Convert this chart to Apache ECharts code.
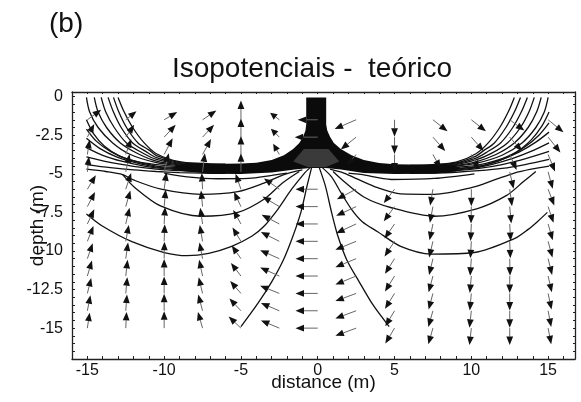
<!DOCTYPE html>
<html><head><meta charset="utf-8">
<script src="https://cdn.jsdelivr.net/npm/echarts@6/dist/echarts.min.js"></script>
<style>html,body{margin:0;padding:0;background:#fff}#c{width:581px;height:402px}</style>
</head><body><div id="c"></div><script>
const FONT = '"Liberation Sans", Arial, sans-serif';
const xTickLabels = [-15,-10,-5,0,5,10,15];
const yTickLabels = [0,-2.5,-5,-7.5,-10,-12.5,-15];

// isopotential fan lines, left side (from top / left boundary down into the layer)
const fanLeft = [
 [[-13.0,-0.05],[-12.6,-1.0],[-12.05,-2.0],[-11.3,-3.0],[-10.5,-3.7],[-9,-4.22],[-7.5,-4.33],[-6,-4.38]],
 [[-13.3,-0.05],[-12.95,-1.0],[-12.45,-2.0],[-11.7,-3.0],[-11.0,-3.45],[-10.5,-3.82],[-9,-4.27],[-7.5,-4.37],[-6,-4.42]],
 [[-13.65,-0.05],[-13.3,-1.0],[-12.8,-2.0],[-12.05,-3.0],[-11.2,-3.55],[-10.5,-3.95],[-9,-4.32],[-7.5,-4.42],[-6,-4.46]],
 [[-14.1,-0.05],[-13.8,-1.0],[-13.25,-2.0],[-12.45,-3.0],[-11.4,-3.65],[-10.5,-4.07],[-9,-4.37],[-7.5,-4.47],[-6,-4.5]],
 [[-14.55,-0.05],[-14.3,-1.0],[-13.75,-2.0],[-12.85,-3.0],[-11.7,-3.7],[-10.5,-4.18],[-9,-4.42],[-7.5,-4.52],[-6,-4.54]],
 [[-15.06,-0.05],[-14.85,-1.0],[-14.3,-2.0],[-13.35,-3.0],[-12.2,-3.75],[-10.5,-4.28],[-9,-4.47],[-7.5,-4.57],[-6,-4.58]],
 [[-15.06,-1.5],[-14.6,-2.4],[-13.9,-3.2],[-12.9,-3.85],[-11.6,-4.25],[-10.5,-4.4],[-9,-4.53],[-7.5,-4.62],[-6,-4.63]],
 [[-15.06,-2.1],[-14.4,-2.9],[-13.5,-3.55],[-12.4,-4.05],[-10.5,-4.5],[-9,-4.6],[-7.5,-4.67],[-6,-4.68]],
 [[-15.06,-2.7],[-14.2,-3.35],[-13.1,-3.9],[-11.8,-4.3],[-10.5,-4.57],[-9,-4.67],[-7.5,-4.72],[-6,-4.73]],
 [[-15.06,-3.3],[-14,-3.8],[-12.7,-4.2],[-11.3,-4.5],[-10,-4.67],[-8.5,-4.75],[-6,-4.8]],
 [[-15.06,-3.9],[-13.6,-4.25],[-12,-4.52],[-10.5,-4.7],[-9,-4.8],[-7.5,-4.85],[-6,-4.87]],
 [[-15.06,-4.4],[-13.5,-4.6],[-12,-4.75],[-10.5,-4.85],[-9,-4.92],[-7.5,-4.96],[-6,-4.97]]
];
// right side fan lines
const fanRight = [
 [[12.8,-0.05],[12.4,-1.0],[11.85,-2.0],[11.1,-3.0],[10.3,-3.7],[9,-4.25],[7.5,-4.4],[6,-4.45]],
 [[13.2,-0.05],[12.8,-1.0],[12.25,-2.0],[11.5,-3.0],[10.8,-3.5],[10.3,-3.85],[9,-4.3],[7.5,-4.44],[6,-4.48]],
 [[13.65,-0.05],[13.25,-1.0],[12.7,-2.0],[11.9,-3.0],[11.0,-3.6],[10.3,-3.98],[9,-4.35],[7.5,-4.48],[6,-4.52]],
 [[14.1,-0.05],[13.75,-1.0],[13.2,-2.0],[12.35,-3.0],[11.3,-3.68],[10.3,-4.1],[9,-4.4],[7.5,-4.52],[6,-4.56]],
 [[14.55,-0.05],[14.25,-1.0],[13.7,-2.0],[12.8,-3.0],[11.6,-3.75],[10.3,-4.22],[9,-4.45],[7.5,-4.56],[6,-4.6]],
 [[15.0,-0.05],[14.75,-1.0],[14.2,-2.0],[13.3,-3.0],[12.0,-3.8],[10.3,-4.33],[9,-4.5],[7.5,-4.6],[6,-4.64]],
 [[15.06,-1.0],[14.6,-1.9],[13.9,-2.8],[12.9,-3.6],[11.6,-4.15],[10.3,-4.45],[9,-4.57],[7.5,-4.66],[6,-4.69]],
 [[15.06,-1.7],[14.4,-2.5],[13.5,-3.25],[12.4,-3.9],[11,-4.4],[9.5,-4.62],[7.5,-4.72],[6,-4.74]],
 [[15.06,-2.3],[14.2,-2.95],[13.1,-3.6],[11.8,-4.15],[10.4,-4.55],[9,-4.68],[7.5,-4.77],[6,-4.79]],
 [[15.06,-3.0],[14,-3.5],[12.7,-4.0],[11.3,-4.4],[10,-4.65],[8.5,-4.78],[6,-4.84]],
 [[15.06,-3.55],[13.6,-4.0],[12,-4.4],[10.5,-4.65],[9,-4.8],[7.5,-4.87],[6,-4.9]],
 [[15.06,-4.07],[13.5,-4.4],[12,-4.65],[10.5,-4.8],[9,-4.9],[7.5,-4.95],[6,-4.97]]
];
// isopotentials below the layer
const curveA0Left = [[-10,-4.95],[-8.5,-5.2],[-6.5,-5.32],[-4.5,-5.3],[-3,-5.1],[-2,-4.95]];
const curveALeft = [[-15.06,-4.7],[-13.8,-4.85],[-12.7,-5.05],[-12.0,-5.4],[-10.2,-6.0],[-7.6,-6.33],[-5.2,-6.15],[-3.5,-5.6],[-2.2,-5.05],[-1.0,-4.75]];
const curveBLeft = [[-12.7,-5.05],[-11.9,-5.9],[-10.2,-7.1],[-7.6,-7.75],[-5.2,-7.5],[-3.5,-6.65],[-2.3,-5.6],[-1.2,-4.85]];
const curveCLeft = [[-15.06,-7.6],[-14,-8.4],[-12.1,-9.4],[-10,-10.1],[-8.5,-10.3],[-7.1,-10.15],[-5.6,-9.7],[-4.3,-9.05],[-3.5,-8.4],[-2.6,-7.3],[-1.7,-6.0],[-0.9,-5.0],[-0.5,-4.6]];
const curveRLeft = [[-0.4,-4.6],[-0.7,-5.8],[-1.1,-7.5],[-1.6,-9.0],[-2.2,-10.5],[-3.0,-12.0],[-3.9,-13.4],[-5.0,-14.9]];
const curveA0Right = [[2.0,-4.95],[2.8,-5.04],[4.8,-5.37],[7.6,-5.3],[10.2,-5.0]];
const curveARight = [[0.8,-4.7],[1.7,-4.95],[2.6,-5.35],[3.9,-5.9],[5.4,-6.3],[7.6,-6.33],[10.0,-5.9],[11.5,-5.4],[12.8,-4.95],[13.9,-4.7],[15.06,-4.5]];
const curveBRight = [[1.0,-4.85],[1.6,-5.4],[3.0,-6.5],[4.8,-7.2],[7.6,-7.75],[10.4,-7.25],[12.3,-6.4],[13.4,-5.5],[14.2,-4.85]];
const curveCRight = [[0.3,-4.6],[0.9,-5.2],[1.5,-6.2],[2.2,-7.3],[2.9,-8.1],[3.9,-8.75],[5.4,-9.7],[7.4,-10.2],[10.2,-10.1],[12.8,-9.2],[13.7,-8.6],[14.3,-8.1],[14.95,-7.5]];
const curveRRight = [[0.1,-4.6],[0.5,-5.8],[0.9,-7.5],[1.3,-9.0],[1.9,-10.6],[2.7,-12.0],[3.6,-13.5],[4.65,-14.9]];

// dense black region: electrode + conductive layer outline
const layerOutline = [[-0.75,-0.05],[-0.75,-1.8],[-0.8,-2.2],[-0.95,-2.6],[-1.2,-3.0],[-1.6,-3.4],[-2.2,-3.8],[-3.0,-4.1],[-4,-4.28],[-5,-4.33],[-7,-4.36],[-8.5,-4.33],[-9.3,-4.5],[-9,-4.8],[-7,-5.0],[-5,-5.02],[-3,-4.92],[-1.5,-4.72],[-0.5,-4.62],[0.5,-4.62],[1.5,-4.72],[3,-4.95],[5,-5.02],[7.6,-5.0],[9,-4.85],[9.3,-4.6],[8.5,-4.4],[7,-4.42],[5,-4.38],[4,-4.3],[3.0,-4.1],[2.2,-3.8],[1.5,-3.4],[1.05,-3.0],[0.8,-2.6],[0.62,-2.2],[0.55,-1.8],[0.55,-0.05]];
const tipPatch = [[-0.9,-3.4],[0.7,-3.4],[1.4,-4.2],[0.5,-4.58],[-0.6,-4.58],[-1.6,-4.2]];

// vector field (quiver): columns x rows, dx/dy per cell (null = no arrow)
const arrowColumns = [-15,-12.5,-10,-7.5,-5,-2.5,0,2.5,5,7.5,10,12.5,15];
const arrowRows = [-15,-13.875,-12.75,-11.625,-10.5,-9.375,-8.25,-7.125,-6,-4.875,-3.75,-2.625,-1.5];
const arrowDX = [
 [0.15,0.2,0.25,0.3,0.35,0.4,0.45,0.5,0.55,0.1,0.15,0.45,0.9],
 [0.05,0.08,0.1,0.12,0.15,0.2,0.25,0.3,0.35,0.25,0.35,0.55,0.7],
 [0,0,0,0,0.02,0.04,0.06,0.1,0.15,0.3,0.55,0.75,0.85],
 [-0.3,-0.28,-0.25,-0.22,-0.2,-0.18,-0.15,-0.1,-0.05,0.15,0.55,0.75,0.9],
 [-0.8,-0.75,-0.7,-0.65,-0.6,-0.55,-0.5,-0.45,-0.35,0,0,0,0],
 [-1.2,-1.2,-1.25,-1.25,-1.25,-1.2,-1.15,-1.1,-1,null,-0.4,-0.55,-0.6],
 [-1.45,-1.45,-1.45,-1.45,-1.45,-1.45,-1.45,-1.45,-1.45,null,null,-1.5,-1.3],
 [-1.35,-1.35,-1.35,-1.35,-1.35,-1.35,-1.3,-1.3,-1.25,null,-0.6,-1,-1.4],
 [-0.6,-0.6,-0.62,-0.62,-0.62,-0.65,-0.65,-0.7,-0.7,null,0,0,0],
 [-0.3,-0.3,-0.28,-0.28,-0.25,-0.25,-0.22,-0.2,-0.18,null,0.5,0.8,0.95],
 [-0.12,-0.12,-0.1,-0.1,-0.08,-0.06,-0.05,-0.02,0,null,0.5,0.8,0.95],
 [0,0,0,0,0.02,0.04,0.06,0.1,0.15,0.25,0.45,0.8,0.95],
 [0.2,0.2,0.22,0.24,0.26,0.28,0.3,0.35,0.4,0.3,0.45,0.8,1]
];
const arrowDY = [
 [1,1,1,1,1,1,0.95,0.95,0.9,1,0.95,0.85,0.65],
 [1.05,1.05,1.05,1.05,1.05,1.05,1.05,1.05,1.05,1.15,1,0.8,0.55],
 [1.1,1.1,1.1,1.1,1.1,1.1,1.1,1.1,1.1,1.2,1.05,0.8,0.5],
 [1.05,1.05,1.05,1.05,1.05,1.05,1.05,1.05,1.05,1.2,1,0.8,0.6],
 [0.75,0.8,0.8,0.85,0.85,0.9,0.9,0.95,1,1.2,1.2,1.2,1.25],
 [0.5,0.5,0.5,0.55,0.55,0.6,0.6,0.65,0.7,null,0.7,0.55,0.45],
 [0,0,0,0,0,0,0,0,0,null,null,0,0],
 [-0.5,-0.5,-0.5,-0.55,-0.55,-0.55,-0.6,-0.6,-0.65,null,-0.7,-0.8,-0.6],
 [-1,-1,-1,-1,-0.98,-0.98,-0.95,-0.95,-0.9,null,-1.1,-1.1,-1.1],
 [-1.05,-1.05,-1.05,-1.05,-1.05,-1.05,-1.05,-1.05,-1.05,null,-0.9,-0.9,-0.75],
 [-1.1,-1.1,-1.1,-1.1,-1.1,-1.1,-1.1,-1.1,-1.1,null,-0.95,-0.9,-0.75],
 [-1.1,-1.1,-1.1,-1.1,-1.1,-1.1,-1.1,-1.1,-1.1,-1.1,-1,-0.9,-0.7],
 [-1.05,-1.05,-1.05,-1.05,-1.05,-1.05,-1.05,-1.05,-1.05,-1.1,-1.1,-1,-0.8]
];

const arrows = [];
arrowColumns.forEach((x, ci) => {
  arrowRows.forEach((y, ri) => {
    const dx = arrowDX[ci][ri], dy = arrowDY[ci][ri];
    if (dx === null || dy === null) return;
    arrows.push([x, y, dx, dy]);
  });
});

const lineSets = [].concat(fanLeft, fanRight,
  [curveA0Left, curveALeft, curveBLeft, curveCLeft, curveRLeft,
   curveA0Right, curveARight, curveBRight, curveCRight, curveRRight]);

const series = lineSets.map(pts => ({
  type: 'line', data: pts, showSymbol: false, smooth: 0.3, silent: true,
  lineStyle: { color: '#111', width: 1.3 }, z: 2, animation: false
}));

function polySeries(outline, fill, z) {
  return {
    type: 'custom', coordinateSystem: 'cartesian2d', data: [[0, -5]],
    encode: { x: 0, y: 1 }, silent: true, z: z, animation: false,
    renderItem: (params, api) => ({
      type: 'polygon',
      shape: { points: outline.map(p => api.coord(p)), smooth: 0 },
      style: { fill: fill }
    })
  };
}
series.push(polySeries(layerOutline, '#0b0b0b', 3));
series.push(polySeries(tipPatch, '#3a3a3a', 4));

series.push({
  type: 'custom', coordinateSystem: 'cartesian2d', data: arrows,
  encode: { x: 0, y: 1 }, silent: true, z: 6, animation: false,
  renderItem: (params, api) => {
    const x = api.value(0), y = api.value(1), dx = api.value(2), dy = api.value(3);
    const p0 = api.coord([x, y]);
    const p1 = api.coord([x + dx, y + dy]);
    const vx = p1[0] - p0[0], vy = p1[1] - p0[1];
    const len = Math.sqrt(vx * vx + vy * vy) || 1;
    const ux = vx / len, uy = vy / len;
    const L = Math.min(8.5, len * 0.6), W = 3.4;
    const bx = p1[0] - ux * L, by = p1[1] - uy * L;
    return {
      type: 'group',
      children: [
        { type: 'line', shape: { x1: p0[0], y1: p0[1], x2: bx, y2: by },
          style: { stroke: '#666', lineWidth: 1 } },
        { type: 'polygon',
          shape: { points: [[p1[0], p1[1]], [bx - uy * W, by + ux * W], [bx + uy * W, by - ux * W]] },
          style: { fill: '#111' } }
      ]
    };
  }
});

const axisLineStyle = { color: '#222', width: 1.3 };
const chart = echarts.init(document.getElementById('c'), null, { renderer: 'canvas' });
chart.setOption({
  animation: false,
  backgroundColor: '#fff',
  grid: { left: 72, right: 6, top: 92, bottom: 43, containLabel: false, outerBoundsMode: 'none' },
  graphic: [
    { type: 'text', x: 49, y: 24, style: { text: '(b)', font: '28px ' + FONT, fill: '#111', verticalAlign: 'middle', textVerticalAlign: 'middle' } },
    { type: 'text', x: 312, y: 69, style: { text: 'Isopotenciais -  teórico', font: '28px ' + FONT, fill: '#111', align: 'center', textAlign: 'center', verticalAlign: 'middle', textVerticalAlign: 'middle' } }
  ],
  xAxis: [
    { type: 'value', min: -16, max: 16.75, interval: 1, position: 'bottom',
      name: 'distance (m)', nameLocation: 'middle', nameGap: 14, nameMoveOverlap: false,
      nameTextStyle: { fontSize: 19, color: '#111', fontFamily: FONT },
      axisLine: { show: true, onZero: false, lineStyle: axisLineStyle },
      axisTick: { show: true, inside: true, length: 3, lineStyle: { color: '#222' } },
      axisLabel: { formatter: v => xTickLabels.includes(v) ? String(v) : '', fontSize: 16, color: '#111', fontFamily: FONT, margin: 4 },
      splitLine: { show: false } },
    { type: 'value', min: -16, max: 16.75, interval: 1, position: 'top',
      axisLine: { show: true, onZero: false, lineStyle: axisLineStyle },
      axisTick: { show: true, inside: true, length: 2, lineStyle: { color: '#222' } },
      axisLabel: { show: false }, splitLine: { show: false } }
  ],
  yAxis: [
    { type: 'value', min: -17, max: 0.3, interval: 0.5, position: 'left',
      name: 'depth (m)', nameLocation: 'middle', nameGap: 25, nameMoveOverlap: false,
      nameTextStyle: { fontSize: 19, color: '#111', fontFamily: FONT },
      axisLine: { show: true, onZero: false, lineStyle: axisLineStyle },
      axisTick: { show: true, inside: true, length: 3, lineStyle: { color: '#222' } },
      axisLabel: { formatter: v => yTickLabels.includes(v) ? String(v) : '', fontSize: 16, color: '#111', fontFamily: FONT, margin: 9 },
      splitLine: { show: false } },
    { type: 'value', min: -17, max: 0.3, interval: 0.5, position: 'right',
      axisLine: { show: true, onZero: false, lineStyle: axisLineStyle },
      axisTick: { show: true, inside: true, length: 2, lineStyle: { color: '#222' } },
      axisLabel: { show: false }, splitLine: { show: false } }
  ],
  series: series
});
</script></body></html>
